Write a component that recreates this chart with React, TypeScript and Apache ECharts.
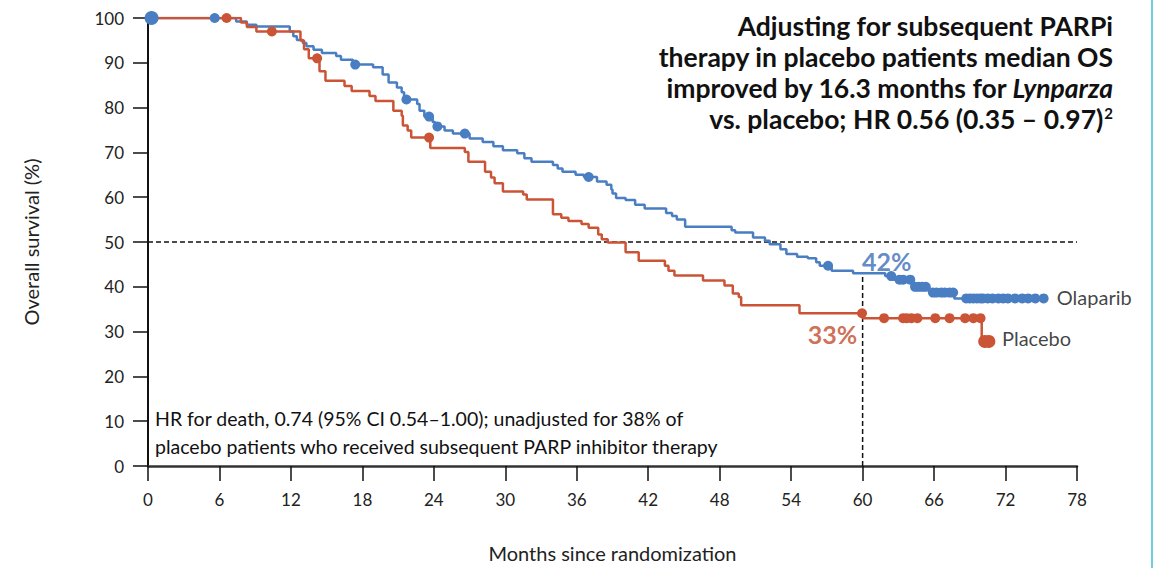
import React, { useEffect, useRef } from "react";
import * as echarts from "echarts";

const BLUE = "#4A7EC2";
const RED = "#CB5436";
const FONT = "Lato";

const xTickLabels = ["0", "6", "12", "18", "24", "30", "36", "42", "48", "54", "60", "66", "72", "78"];
const yTickLabels = ["0", "10", "20", "30", "40", "50", "60", "70", "80", "90", "100"];

// Kaplan-Meier steps: [month, survival % after the event]
const olaparibSteps: [number, number][] = [
  [0, 100], [7.4, 99.2], [8.3, 98.5], [9.1, 98.1], [11.9, 97.0], [12.2, 95.9], [12.5, 95.1],
  [13.0, 94.4], [13.3, 93.7], [13.9, 92.9], [14.6, 92.2], [15.8, 91.5], [16.2, 90.7], [17.2, 89.6],
  [18.9, 89.0], [19.7, 87.4], [20.2, 85.6], [20.9, 84.5], [21.3, 83.4], [21.5, 81.8], [22.6, 80.8],
  [22.8, 79.3], [23.2, 78.0], [23.9, 76.8], [24.1, 75.8], [24.9, 74.9], [25.6, 74.2], [27.0, 73.1],
  [28.1, 72.3], [29.0, 71.4], [29.8, 70.5], [31.0, 69.8], [31.6, 68.7], [32.2, 67.9], [34.0, 67.2],
  [34.4, 66.4], [34.8, 65.7], [35.9, 65.0], [36.6, 64.5], [37.7, 63.5], [38.5, 62.8], [38.9, 61.7],
  [39.0, 60.8], [39.3, 59.8], [40.1, 59.4], [40.9, 58.3], [41.7, 57.5], [43.5, 56.5], [44.0, 55.8],
  [44.4, 55.0], [45.1, 53.4], [49.0, 52.6], [49.3, 52.1], [50.8, 51.0], [51.8, 50.3], [52.2, 49.5],
  [53.1, 48.4], [53.6, 47.3], [54.5, 46.7], [55.4, 46.4], [56.1, 45.5], [56.4, 44.7], [57.4, 43.6],
  [59.2, 43.0], [61.9, 42.4], [62.6, 41.6], [64.2, 40.0], [65.6, 38.7], [67.7, 37.4], [75.2, 37.4],
];

const placeboSteps: [number, number][] = [
  [0, 100], [7.8, 99.0], [8.3, 98.0], [9.1, 97.0], [12.8, 95.0], [13.1, 93.0], [13.5, 91.0],
  [14.4, 88.1], [14.9, 86.0], [16.5, 84.8], [17.1, 83.7], [18.6, 82.6], [19.1, 81.5], [20.6, 79.3],
  [21.3, 78.2], [21.4, 76.0], [21.8, 74.9], [22.1, 73.3], [23.7, 71.0], [26.6, 70.1], [26.9, 67.9],
  [28.3, 65.7], [28.8, 64.4], [29.1, 63.1], [29.8, 61.3], [31.5, 60.6], [31.8, 59.5], [34.0, 56.2],
  [34.7, 55.4], [35.3, 54.7], [36.4, 54.0], [37.0, 53.2], [37.8, 51.7], [38.1, 50.6], [38.6, 49.9],
  [40.1, 47.7], [41.2, 45.8], [43.4, 44.7], [43.7, 43.6], [44.2, 42.5], [46.6, 41.4], [48.4, 40.3],
  [49.1, 38.5], [49.6, 37.7], [49.8, 35.9], [54.7, 34.1], [60.0, 33.0], [70.0, 27.8], [70.6, 27.8],
];

// censored observations (months)
const olaparibCensor: number[] = [
  0.3, 5.6, 17.4, 21.7, 23.6, 24.3, 26.6, 37.0, 57.1, 62.4, 63.1, 63.4, 64.0, 64.4, 64.7, 65.0, 65.3,
  65.9, 66.2, 66.6, 66.9, 67.3, 67.6, 68.7, 69.0, 69.3, 69.6, 69.9, 70.1, 70.5, 70.9, 71.4, 71.8,
  72.2, 72.8, 73.4, 73.9, 74.5, 75.2,
];
const placeboCensor: number[] = [
  6.6, 10.4, 14.2, 23.6, 59.95, 61.8, 63.4, 63.7, 64.1, 64.6, 66.1, 67.3, 68.6, 69.3, 69.9, 70.25, 70.6,
];

const medianLine: [number, number][] = [[0, 50], [78, 50]];
const landmarkLine: [number, number][] = [[60, 0], [60, 43.0]];

const titleLines = [
  "Adjusting for subsequent PARPi",
  "therapy in placebo patients median OS",
];
const hrNote = [
  "HR for death, 0.74 (95% CI 0.54\u20131.00); unadjusted for 38% of",
  "placebo patients who received subsequent PARP inhibitor therapy",
];

function stepValue(steps: [number, number][], t: number): number {
  let v = steps[0][1];
  for (const [x, y] of steps) {
    if (x <= t) v = y;
    else break;
  }
  return v;
}

export default function App() {
  const ref = useRef<HTMLDivElement>(null);
  useEffect(() => {
    if (!ref.current) return;
    const chart = echarts.init(ref.current, null, { renderer: "svg" });
    const axisText = { color: "#222", fontFamily: FONT, fontSize: 17 };
    const olaCensorData = olaparibCensor.map((t) => [t, stepValue(olaparibSteps, t)]);
    const plaCensorData = placeboCensor.map((t) => [t, stepValue(placeboSteps, t)]);
    const TITLE = 26.5;
    const option: any = {
      animation: false,
      backgroundColor: "#fff",
      grid: { left: 148, right: 80, top: 18, bottom: 97 },
      xAxis: {
        type: "value",
        min: 0,
        max: 78,
        interval: 6,
        name: "Months since randomization",
        nameLocation: "middle",
        nameGap: 77,
        nameTextStyle: { ...axisText, fontSize: 20 },
        axisLine: { lineStyle: { color: "#333", width: 2.5 } },
        axisTick: { length: 15, lineStyle: { color: "#111", width: 1.5 } },
        axisLabel: { ...axisText, margin: 25, formatter: (v: number) => xTickLabels[Math.round(v / 6)] },
        splitLine: { show: false },
      },
      yAxis: {
        type: "value",
        min: 0,
        max: 100,
        interval: 10,
        name: "Overall survival (%)",
        nameLocation: "middle",
        nameGap: 107,
        nameRotate: 90,
        nameTextStyle: { ...axisText, fontSize: 20 },
        axisLine: { show: true, lineStyle: { color: "#111", width: 2 } },
        axisTick: { show: true, length: 15, lineStyle: { color: "#111", width: 1.5 } },
        axisLabel: { ...axisText, margin: 24, formatter: (v: number) => yTickLabels[Math.round(v / 10)] },
        splitLine: { show: false },
      },
      series: [
        {
          type: "line",
          data: medianLine,
          showSymbol: false,
          lineStyle: { color: "#111", width: 1.5, type: [5, 3] },
          z: 1,
        },
        {
          type: "line",
          data: landmarkLine,
          showSymbol: false,
          lineStyle: { color: "#111", width: 1.5, type: [5, 3] },
          z: 1,
        },
        {
          name: "Olaparib",
          type: "line",
          step: "end",
          data: olaparibSteps,
          showSymbol: false,
          lineStyle: { color: BLUE, width: 2.5 },
          z: 3,
        },
        {
          name: "Placebo",
          type: "line",
          step: "end",
          data: placeboSteps,
          showSymbol: false,
          lineStyle: { color: RED, width: 2.5 },
          z: 3,
        },
        {
          type: "scatter",
          data: olaCensorData,
          symbolSize: (d: number[]) => (d[0] < 1 ? 14 : 10),
          itemStyle: { color: BLUE, opacity: 1 },
          z: 4,
        },
        {
          type: "scatter",
          data: plaCensorData,
          symbolSize: (d: number[]) => (d[0] > 70 ? 13 : 10),
          itemStyle: { color: RED, opacity: 1 },
          z: 4,
        },
        {
          type: "scatter",
          symbolSize: 0,
          z: 5,
          data: [
            { value: [59.95, 45.8], label: { formatter: "42%", color: "#3C6DB8", fontSize: 25, fontWeight: "bold" } },
            { value: [55.4, 29.4], label: { formatter: "33%", color: "#C24B2C", fontSize: 25, fontWeight: "bold" } },
            { value: [76.3, 37.7], label: { formatter: "Olaparib", color: "#111", fontSize: 20 } },
            { value: [71.7, 28.5], label: { formatter: "Placebo", color: "#111", fontSize: 20 } },
          ],
          label: { show: true, position: "right", distance: 0, fontFamily: FONT, textBorderWidth: 0 },
          silent: true,
        },
      ],
      graphic: [
        { type: "rect", left: 1151, top: 0, shape: { width: 2, height: 568 }, style: { fill: "#6CCFE6" } },
        ...titleLines.map((t, i) => ({
          type: "text",
          right: 44,
          top: 12 + i * 31,
          style: { text: t, fill: "#111", font: `bold ${TITLE}px ${FONT}`, textAlign: "right" },
        })),
        {
          type: "text",
          right: 44,
          top: 12 + 2 * 31,
          style: {
            text: "{n|improved by 16.3 months for }{i|Lynparza}",
            textAlign: "right",
            rich: {
              n: { fill: "#111", fontFamily: FONT, fontSize: TITLE, fontWeight: "bold" },
              i: { fill: "#111", fontFamily: FONT, fontSize: TITLE, fontWeight: "bold", fontStyle: "italic" },
            },
          },
        },
        {
          type: "text",
          right: 44,
          top: 12 + 3 * 31,
          style: {
            text: "{n|vs. placebo; HR 0.56 (0.35 \u2013 0.97)}{s|2}",
            textAlign: "right",
            rich: {
              n: { fill: "#111", fontFamily: FONT, fontSize: TITLE, fontWeight: "bold" },
              s: { fill: "#111", fontFamily: FONT, fontSize: 15, fontWeight: "bold", verticalAlign: "top", padding: [0, 0, 10, 1] },
            },
          },
        },
        ...hrNote.map((t, i) => ({
          type: "text",
          left: 155,
          top: 408 + i * 28,
          style: { text: t, fill: "#111", font: `19.5px ${FONT}` },
        })),
      ],
    };
    chart.setOption(option);
    return () => chart.dispose();
  }, []);
  return <div ref={ref} style={{ position: "fixed", left: 0, top: 0, width: 1157, height: 568 }} />;
}
